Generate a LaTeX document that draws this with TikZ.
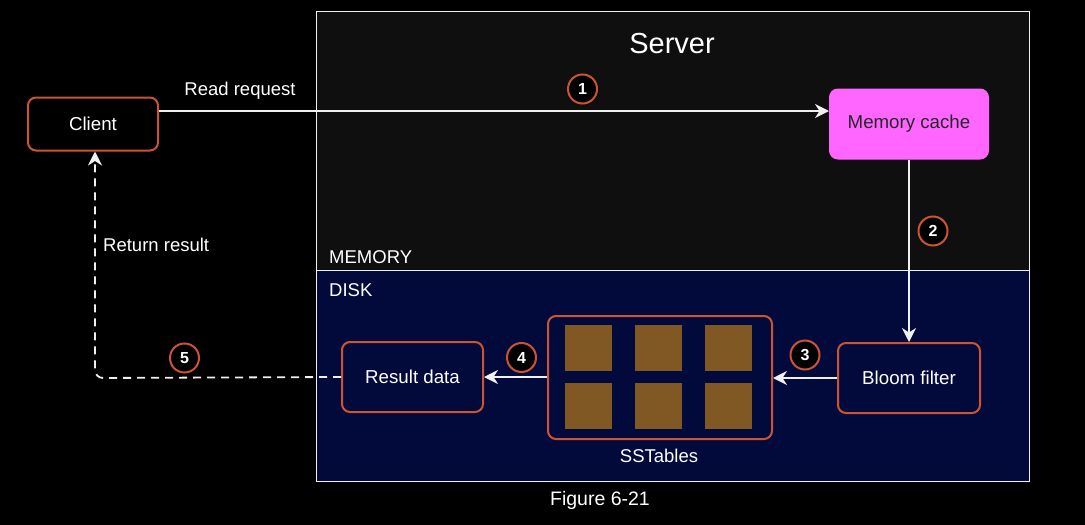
\documentclass[tikz,border=0pt]{standalone}
\usepackage{fontspec}
\setmainfont{Liberation Sans}
\usetikzlibrary{arrows.meta,positioning,calc}
\definecolor{edgeor}{RGB}{204,84,50}
\definecolor{memfill}{RGB}{15,15,15}
\definecolor{diskfill}{RGB}{2,10,60}
\definecolor{cachefill}{RGB}{255,102,255}
\definecolor{sstfill}{RGB}{128,88,36}
\definecolor{linew}{RGB}{240,240,240}
\tikzset{
  box/.style={draw=edgeor, line width=2pt, rounded corners=8pt, fill=black, text=white, font=\fontsize{18.7}{21}\selectfont, inner sep=0pt},
  num/.style={circle, draw=edgeor, line width=2pt, fill=black, text=white, minimum size=29pt, inner sep=0pt, font=\bfseries\fontsize{16}{18}\selectfont},
  conn/.style={draw=linew, line width=1.8pt, -{Stealth[length=14pt,width=14pt,inset=4.5pt]}},
  sst/.style={fill=sstfill, minimum width=47pt, minimum height=46pt, inner sep=0pt},
  lbl/.style={text=white, font=\fontsize{18.5}{21}\selectfont, inner sep=0pt}
}
\begin{document}
\begin{tikzpicture}[x=1pt,y=-1pt]
\useasboundingbox (0,0) rectangle (1085,525);
\fill[black] (0,0) rectangle (1085,525);
% server regions
\fill[memfill] (316,11) rectangle (1029,270);
\fill[diskfill] (316,270) rectangle (1029,481);
\draw[linew, line width=0.8pt] (316,11) rectangle (1029,481);
\draw[linew, line width=0.8pt] (316,270) -- (1029,270);
\node[lbl, font=\fontsize{29}{33}\selectfont] (server) at (672,44) {Server};
\node[lbl, anchor=west] (mem) at (329,257) {MEMORY};
\node[lbl, anchor=west] (disk) at (329,290) {DISK};
% nodes
\node[box, minimum width=130pt, minimum height=53pt] (client) at (93,124) {Client};
\node[box, fill=cachefill, draw=cachefill, text=black!85, minimum width=158pt, minimum height=69pt] (cache) at (909,124) {Memory cache};
\node[box, fill=diskfill, minimum width=142pt, minimum height=70pt] (bloom) at (909,378) {Bloom filter};
\node[box, fill=diskfill, minimum width=224pt, minimum height=123pt] (sstables) at (660,377.5) {};
\node[box, fill=diskfill, minimum width=141pt, minimum height=70pt] (result) at (412.5,377) {Result data};
\foreach \i/\x/\y in {a/588.5/348, b/658.5/348, c/728.5/348, d/588.5/406, e/658.5/406, f/728.5/406}{
  \node[sst] (sst\i) at (\x,\y) {};
}
\node[lbl] (ssttext) at (659,456) {SSTables};
% connectors
\draw[conn] ([yshift=13pt]client.east) -- ([yshift=13pt]cache.west);
\node[lbl, anchor=south] (readreq) at (240,100) {Read request};
\draw[conn] (cache.south) -- (bloom.north);
\draw[conn] (bloom.west) -- (sstables.east |- bloom.west);
\draw[conn] (sstables.west |- result.east) -- (result.east);
\coordinate (corner) at (95,378);
\draw[conn, dash pattern=on 8pt off 6pt, rounded corners=8pt] (result.west) -- (corner) -- (client.south -| corner);
\node[lbl, anchor=west] (retres) at (103,245) {Return result};
% numbers
\node[num] (n1) at (582.5,89) {1};
\node[num] (n2) at (933,231) {2};
\node[num] (n3) at (805,355) {3};
\node[num] (n4) at (521.5,357.5) {4};
\node[num] (n5) at (184.5,358) {5};
\node[lbl, font=\fontsize{19.5}{22}\selectfont] (caption) at (600,500) {Figure 6-21};
\end{tikzpicture}
\end{document}
